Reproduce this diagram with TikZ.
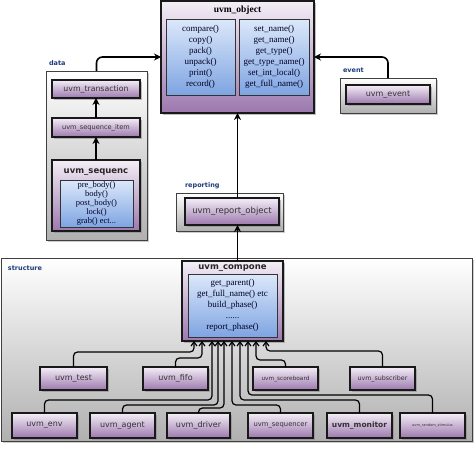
\documentclass[tikz,border=0pt]{standalone}
\usepackage{fontspec}
\setmainfont{Liberation Serif}
\setsansfont{DejaVu Sans}
\usetikzlibrary{arrows.meta,shadows,calc}
\definecolor{plight}{HTML}{F4EEF6}
\definecolor{pdark}{HTML}{9C78AE}
\definecolor{blight}{HTML}{DCE8FA}
\definecolor{bdark}{HTML}{7EA4E2}
\definecolor{lblue}{HTML}{1D3C78}
\definecolor{gdark}{HTML}{B0B0B0}
\begin{document}
\begin{tikzpicture}[x=1pt,y=-1pt,
  every node/.style={inner sep=0pt, outer sep=0pt},
  pbox/.style={draw=black!90, line width=1.1pt, top color=plight, bottom color=pdark,
    drop shadow={shadow xshift=1.5pt, shadow yshift=-1.5pt, opacity=0.5},
    font=\sffamily\fontsize{8}{9}\selectfont, text=black!80},
  bbox/.style={draw=black!80, line width=0.8pt, top color=blight, bottom color=bdark,
    font=\fontsize{9}{11}\selectfont, align=center, text=blue!15!black},
  gbox/.style={draw=black!75, line width=0.9pt, top color=white, bottom color=gdark,
    drop shadow={shadow xshift=1.5pt, shadow yshift=-1.5pt, opacity=0.4}},
  grplabel/.style={font=\sffamily\bfseries\fontsize{6.5}{7}\selectfont, text=lblue, anchor=west},
  bigarrow/.style={line width=1.6pt, -{Stealth[length=7pt,width=7pt]}},
  conn/.style={line width=1.2pt, rounded corners=4pt, -{Straight Barb[length=4pt,width=6pt]}},
  ptitle/.style={font=\sffamily\bfseries\fontsize{8.5}{9}\selectfont, text=black!85}
]
\useasboundingbox (0,0) rectangle (474,450);

% ---------------- uvm_object
\node[pbox, minimum width=153pt, minimum height=112pt] (obj) at (237.5,57) {};
\node[font=\bfseries\fontsize{9.5}{10}\selectfont] (objt) at (237.5,10) {uvm\_object};
\node[bbox, minimum width=69pt, minimum height=76pt] (objl) at (200.5,57)
  {compare()\\copy()\\pack()\\unpack()\\print()\\record()};
\node[bbox, minimum width=70pt, minimum height=76pt] (objr) at (274,57)
  {set\_name()\\get\_name()\\get\_type()\\get\_type\_name()\\set\_int\_local()\\get\_full\_name()};

% ---------------- data group
\node[gbox, minimum width=101pt, minimum height=169pt] (datagrp) at (96.5,155.5) {};
\node[grplabel] (datalbl) at (49,63) {data};
\node[pbox, minimum width=88pt, minimum height=18pt, font=\sffamily\fontsize{7.8}{9}\selectfont] (trans) at (96,89) {uvm\_transaction};
\node[pbox, minimum width=88pt, minimum height=19pt, font=\sffamily\fontsize{6.6}{8}\selectfont] (seqitem) at (96,127.5) {uvm\_sequence\_item};
\node[pbox, minimum width=88pt, minimum height=71pt] (seq) at (96,195.5) {};
\node[ptitle] (seqt) at (96,172.5) {uvm\_sequenc};
\node[bbox, minimum width=73pt, minimum height=47pt, font=\fontsize{8.5}{9.2}\selectfont] (seqb) at (96.5,203.5)
  {pre\_body()\\body()\\post\_body()\\lock()\\grab() ect...};
\draw[bigarrow] (seqitem.north) -- (trans.south);
\draw[bigarrow] (seq.north) -- (seqitem.south);

% ---------------- event group
\node[gbox, minimum width=96pt, minimum height=35pt] (eventgrp) at (388,95.5) {};
\node[grplabel] (eventlbl) at (343,70) {event};
\node[pbox, minimum width=84pt, minimum height=19pt] (event) at (388,94.5) {uvm\_event};

% ---------------- reporting group
\node[gbox, minimum width=107pt, minimum height=38pt] (repgrp) at (229.5,212) {};
\node[grplabel] (replbl) at (185,186) {reporting};
\node[pbox, minimum width=94pt, minimum height=27pt, font=\sffamily\fontsize{8.5}{9}\selectfont] (repobj) at (232,211.5) {uvm\_report\_object};

% ---------------- structure group
\node[gbox, minimum width=471pt, minimum height=183pt] (strgrp) at (236.5,349.5) {};
\node[grplabel] (strlbl) at (8,268) {structure};
\node[pbox, minimum width=101pt, minimum height=80pt] (comp) at (232.5,301) {};
\node[ptitle] (compt) at (232.5,268) {uvm\_compone};
\node[bbox, minimum width=89pt, minimum height=63pt] (compb) at (232.5,305.5)
  {get\_parent()\\get\_full\_name() etc\\build\_phase()\\......\\report\_phase()};

\node[pbox, minimum width=67pt, minimum height=23pt] (test) at (73.5,378.5) {uvm\_test};
\node[pbox, minimum width=65pt, minimum height=23pt] (fifo) at (175.5,378.5) {uvm\_fifo};
\node[pbox, minimum width=65pt, minimum height=23pt, font=\sffamily\fontsize{5.8}{7}\selectfont] (score) at (285.5,378.5) {uvm\_scoreboard};
\node[pbox, minimum width=65pt, minimum height=23pt, font=\sffamily\fontsize{6.3}{7}\selectfont] (subs) at (382.5,378.5) {uvm\_subscriber};
\node[pbox, minimum width=65pt, minimum height=25pt] (env) at (44.5,425.5) {uvm\_env};
\node[pbox, minimum width=65pt, minimum height=25pt] (agent) at (122.5,425.5) {uvm\_agent};
\node[pbox, minimum width=63pt, minimum height=25pt] (driver) at (198.5,425.5) {uvm\_driver};
\node[pbox, minimum width=65pt, minimum height=25pt, font=\sffamily\fontsize{6.8}{8}\selectfont] (seqr) at (280.5,425.5) {uvm\_sequencer};
\node[pbox, minimum width=65pt, minimum height=25pt, font=\sffamily\bfseries\fontsize{7.5}{9}\selectfont] (mon) at (359.5,425.5) {uvm\_monitor};
\node[pbox, minimum width=65pt, minimum height=25pt, font=\sffamily\fontsize{3.6}{4}\selectfont] (rand) at (432.5,425.5) {uvm\_random\_stimulus};

% connectors into uvm_component
\draw[conn] (test.north)  |- ($(comp.south)+(-38.5,11)$) -- ($(comp.south)+(-38.5,0)$);
\draw[conn] (fifo.north)  |- ($(comp.south)+(-30.5,17)$) -- ($(comp.south)+(-30.5,0)$);
\draw[conn] (env.north)   |- ($(comp.south)+(-20.5,59)$) -- ($(comp.south)+(-20.5,0)$);
\draw[conn] (agent.north) |- ($(comp.south)+(-14.5,64)$) -- ($(comp.south)+(-14.5,0)$);
\draw[conn] (driver.north)|- ($(comp.south)+(-8.5,67)$) -- ($(comp.south)+(-8.5,0)$);
\draw[conn] (seqr.north)  |- ($(comp.south)+(-0.5,64)$) -- ($(comp.south)+(-0.5,0)$);
\draw[conn] (mon.north)   |- ($(comp.south)+(7.5,59)$) -- ($(comp.south)+(7.5,0)$);
\draw[conn] (rand.north)  |- ($(comp.south)+(15.5,54)$) -- ($(comp.south)+(15.5,0)$);
\draw[conn] (score.north) |- ($(comp.south)+(23.5,19)$) -- ($(comp.south)+(23.5,0)$);
\draw[conn] (subs.north)  |- ($(comp.south)+(33.5,10)$) -- ($(comp.south)+(33.5,0)$);

% big arrows
\draw[bigarrow, rounded corners=6pt] (datagrp.north) |- (obj.west);
\draw[bigarrow, rounded corners=6pt] (eventgrp.north) |- (obj.east);
\draw[bigarrow] (repobj.north -| obj.south) -- (obj.south);
\draw[bigarrow] (comp.north -| obj.south) -- (repobj.south -| obj.south);
\end{tikzpicture}
\end{document}
